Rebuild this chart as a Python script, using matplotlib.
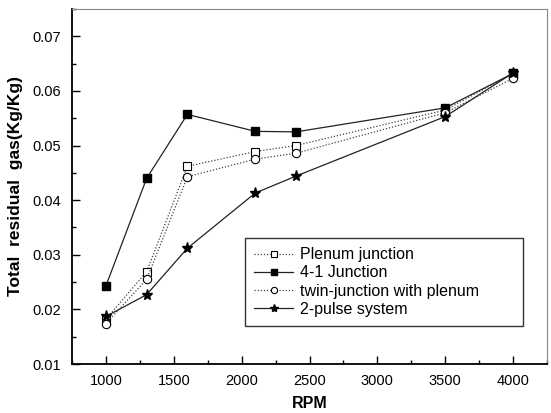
import matplotlib
matplotlib.use("Agg")
import matplotlib.pyplot as plt
from matplotlib.ticker import MultipleLocator

plt.rcParams['font.family'] = ['Liberation Sans', 'DejaVu Sans']

rpm = [1000, 1300, 1600, 2100, 2400, 3500, 4000]
plenum = [0.0182, 0.0269, 0.0462, 0.0489, 0.0500, 0.0565, 0.0632]
junction41 = [0.0243, 0.0440, 0.0557, 0.0526, 0.0525, 0.0569, 0.0632]
twin = [0.0174, 0.0255, 0.0443, 0.0475, 0.0486, 0.0560, 0.0623]
pulse2 = [0.0187, 0.0227, 0.0312, 0.0413, 0.0444, 0.0553, 0.0633]

W, H = 551, 413
fig = plt.figure(figsize=(W / 100, H / 100), dpi=100)
ax = fig.add_axes([72 / W, 1 - 364 / H, 475 / W, 355 / H])

ax.plot(rpm, plenum, ls=(0, (1, 1.5)), color='#444444', lw=0.9, marker='s', ms=5.5,
        mfc='white', mec='black', mew=0.8, label='Plenum junction')
ax.plot(rpm, junction41, ls='-', color='#222222', lw=0.9, marker='s', ms=6,
        mfc='black', mec='black', label='4-1 Junction')
ax.plot(rpm, twin, ls=(0, (1, 1.5)), color='#444444', lw=0.9, marker='o', ms=6,
        mfc='white', mec='black', mew=0.8, label='twin-junction with plenum')
ax.plot(rpm, pulse2, ls='-', color='#222222', lw=0.9, marker='*', ms=8,
        mfc='black', mec='black', label='2-pulse system')

ax.set_xlim(750, 4250)
ax.set_ylim(0.01, 0.075)
ax.xaxis.set_major_locator(MultipleLocator(500))
ax.xaxis.set_minor_locator(MultipleLocator(250))
ax.yaxis.set_minor_locator(MultipleLocator(0.005))
ax.set_yticks([0.01, 0.02, 0.03, 0.04, 0.05, 0.06, 0.07])
ax.set_yticklabels(['0.01', '0.02', '0.03', '0.04', '0.05', '0.06', '0.07'])
ax.set_xticks([1000, 1500, 2000, 2500, 3000, 3500, 4000])
ax.tick_params(which='major', direction='in', length=6, width=1, labelsize=10.5)
ax.tick_params(axis='y', which='major', pad=8)
ax.tick_params(axis='x', which='major', pad=7)
ax.tick_params(which='minor', direction='in', length=3, width=1)
ax.tick_params(top=False, right=False, which='both')

for s in ['left', 'bottom']:
    ax.spines[s].set_linewidth(1.3)
for s in ['top', 'right']:
    ax.spines[s].set_linewidth(0.8)
    ax.spines[s].set_color('#888888')
    ax.spines[s].set_linestyle((0, (2, 1)))

ax.set_xlabel('RPM', fontsize=11.5, fontweight='bold', labelpad=6)
ax.set_ylabel('Total  residual  gas(Kg/Kg)', fontsize=12.5, fontweight='bold', labelpad=7)

leg = ax.legend(loc='upper left', bbox_to_anchor=(0.364, 0.356, 0.585, 0.0),
                mode='expand', fontsize=11.5, frameon=True, fancybox=False,
                edgecolor='black', handlelength=2.4, borderaxespad=0,
                handletextpad=0.45, labelspacing=0.2, borderpad=0.6,
                markerscale=0.75)
leg.get_frame().set_linewidth(1.0)

fig.savefig('out.png', dpi=100)
